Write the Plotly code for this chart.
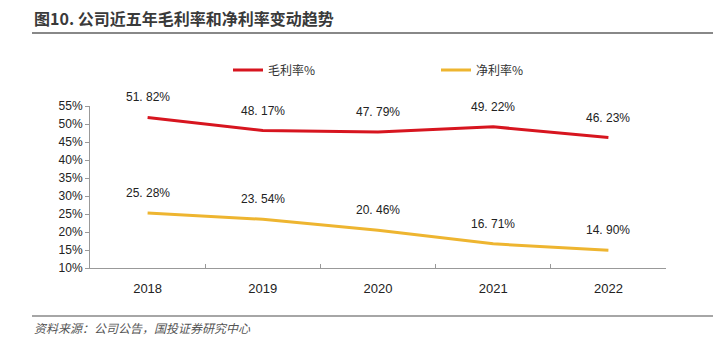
import plotly.graph_objects as go

years = ["2018", "2019", "2020", "2021", "2022"]
gross_margin = [51.82, 48.17, 47.79, 49.22, 46.23]
net_margin = [25.28, 23.54, 20.46, 16.71, 14.90]
y_ticks = [10, 15, 20, 25, 30, 35, 40, 45, 50, 55]

RED = "#D7151F"
YEL = "#EEB530"
W, H = 713, 341
L, R, T, B = 90, 47, 106, 73

fig = go.Figure()
fig.add_trace(go.Scatter(x=years, y=gross_margin, mode="lines", name="毛利率%",
                         line=dict(color=RED, width=3)))
fig.add_trace(go.Scatter(x=years, y=net_margin, mode="lines", name="净利率%",
                         line=dict(color=YEL, width=3)))

ann = []
for series in (gross_margin, net_margin):
    for i, v in enumerate(series):
        ann.append(dict(x=i, y=v, xref="x", yref="y", text=f"{v:.2f}%".replace(".", ". "),
                        showarrow=False, yshift=20,
                        font=dict(family="Liberation Sans, Arial", size=12, color="#222")))

pw, ph = W - L - R, H - T - B
ann.append(dict(x=(32 - L) / pw, y=1 - (18 - T) / ph, xref="paper", yref="paper",
                text="<b>图10. 公司近五年毛利率和净利率变动趋势</b>",
                showarrow=False, xanchor="left", yanchor="middle",
                font=dict(family="Noto Sans CJK SC", size=16, color="#3a3a3a")))
ann.append(dict(x=(32 - L) / pw, y=1 - (327 - T) / ph, xref="paper", yref="paper",
                text="<i>资料来源：公司公告，国投证券研究中心</i>",
                showarrow=False, xanchor="left", yanchor="middle",
                font=dict(family="Noto Sans CJK SC", size=12, color="#555")))

fig.update_layout(
    width=W, height=H,
    margin=dict(l=L, r=R, t=T, b=B),
    paper_bgcolor="white", plot_bgcolor="white",
    showlegend=True,
    legend=dict(orientation="h", x=(228 - L) / pw, y=1 + (106 - 70) / ph,
                xanchor="left", yanchor="middle", entrywidth=163,
                font=dict(family="Noto Sans CJK SC", size=12, color="#333"),
                bgcolor="rgba(0,0,0,0)"),
    annotations=ann,
    shapes=[
        dict(type="line", xref="paper", yref="paper",
             x0=(32 - L) / pw, x1=(713 - L) / pw, y0=1 - (33 - T) / ph, y1=1 - (33 - T) / ph,
             line=dict(color="#888", width=2)),
        dict(type="line", xref="paper", yref="paper",
             x0=(32 - L) / pw, x1=(713 - L) / pw, y0=1 - (316 - T) / ph, y1=1 - (316 - T) / ph,
             line=dict(color="#888", width=1.5)),
    ],
)
fig.update_xaxes(type="category", range=[-0.5, 4.5], showline=True, linecolor="#999", linewidth=1,
                 ticks="inside", tickson="boundaries", ticklen=4, tickcolor="#999",
                 showgrid=False, zeroline=False, ticklabelstandoff=8,
                 tickfont=dict(family="Liberation Sans, Arial", size=13, color="#222"))
fig.update_yaxes(range=[10, 55], tickvals=y_ticks, ticktext=[f"{v}%" for v in y_ticks],
                 showline=True, linecolor="#999", linewidth=1, ticks="outside", ticklen=4,
                 tickcolor="#999", showgrid=False, zeroline=False,
                 tickfont=dict(family="Liberation Sans, Arial", size=12, color="#222"))

fig.write_html("out.html")
